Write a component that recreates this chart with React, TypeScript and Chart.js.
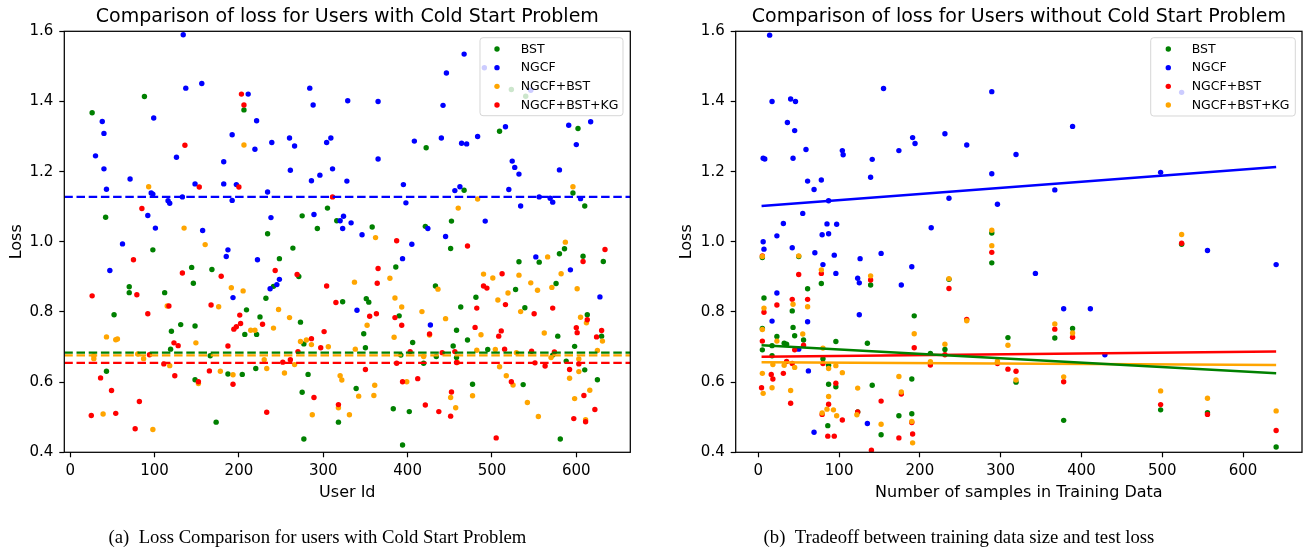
import React, { useEffect, useRef } from "react";
import { Chart, registerables } from "chart.js";

Chart.register(...registerables);

type Pt = [number, number];

// ---------- Panel (a): users with cold start problem ----------
const coldTitle = "Comparison of loss for Users with Cold Start Problem";
const coldXTitle = "User Id";
const coldXTicks = [0, 100, 200, 300, 400, 500, 600];
const coldLabels = ["BST", "NGCF", "NGCF+BST", "NGCF+BST+KG"];
const coldMeanLoss = [0.684, 1.128, 0.676, 0.655];

const coldBst: Pt[] = [
  [26, 1.368], [42, 1.07], [88, 1.414], [206, 1.376], [234, 1.023], [275, 1.074], [293, 1.038], [305, 1.096], [316, 1.06],
  [358, 1.042], [422, 1.268], [421, 1.044], [467, 1.147], [452, 1.059], [509, 1.315], [523, 1.434], [540, 1.415], [602, 1.323], [596, 1.139], [610, 1.102],
  [70, 0.872], [70, 0.855], [98, 0.977], [52, 0.792], [112, 0.855], [120, 0.745], [119, 0.694], [131, 0.764], [144, 0.927], [146, 0.882], [148, 0.76],
  [168, 0.921], [209, 0.806], [207, 0.736], [221, 0.736], [225, 0.786], [232, 0.839], [241, 0.873], [248, 0.952], [264, 0.982], [271, 0.901], [273, 0.771],
  [277, 0.709], [323, 0.829], [43, 0.631], [148, 0.607], [166, 0.675], [187, 0.623], [173, 0.486], [204, 0.622], [220, 0.639], [275, 0.571], [282, 0.622],
  [277, 0.438], [318, 0.486], [339, 0.582],
  [451, 0.981], [386, 0.928], [351, 0.838], [354, 0.828], [348, 0.738], [350, 0.698], [390, 0.789], [433, 0.874], [406, 0.713], [392, 0.677], [419, 0.654],
  [434, 0.673], [454, 0.703], [458, 0.67], [458, 0.748], [463, 0.814], [471, 0.72], [481, 0.842], [495, 0.693], [528, 0.864], [532, 0.943], [537, 0.593],
  [539, 0.812], [556, 0.942], [576, 0.881], [580, 0.966], [586, 0.98], [578, 0.731], [608, 0.959], [632, 0.944], [613, 0.792], [630, 0.731], [598, 0.702],
  [572, 0.677], [588, 0.66], [610, 0.635], [625, 0.607], [477, 0.594], [402, 0.516], [383, 0.524], [394, 0.421], [581, 0.438],
];

const coldNgcf: Pt[] = [
  [134, 1.59], [38, 1.343], [40, 1.309], [30, 1.245], [40, 1.208], [43, 1.15], [99, 1.353], [71, 1.179], [96, 1.139], [98, 1.136], [92, 1.075],
  [101, 1.039], [116, 1.117], [118, 1.11], [126, 1.241], [133, 1.128], [137, 1.438], [148, 1.165], [156, 1.451], [157, 1.032], [182, 1.228], [182, 1.165],
  [192, 1.118], [192, 1.305], [197, 1.163], [211, 1.421], [221, 1.345], [219, 1.264], [234, 1.142], [239, 1.283], [238, 1.069], [260, 1.296], [266, 1.273],
  [261, 1.204], [284, 1.438], [288, 1.39], [286, 1.174], [296, 1.19], [289, 1.078], [304, 1.283], [309, 1.296], [311, 1.208], [320, 1.06], [324, 1.073],
  [323, 1.038], [333, 1.054], [329, 1.402], [328, 1.173],
  [365, 1.4], [365, 1.236], [346, 1.02], [395, 1.163], [398, 1.111], [408, 1.287], [424, 1.038], [445, 1.015], [440, 1.296], [442, 1.389], [446, 1.481],
  [467, 1.535], [464, 1.281], [470, 1.279], [483, 1.3], [456, 1.146], [462, 1.157], [492, 1.059], [491, 1.496], [516, 1.328], [546, 1.432], [524, 1.23],
  [527, 1.212], [532, 1.193], [520, 1.149], [534, 1.102], [556, 1.128], [569, 1.124], [572, 1.113], [580, 1.205], [591, 1.332], [600, 1.277], [617, 1.342],
  [605, 1.123],
  [62, 0.994], [47, 0.918], [187, 0.977], [185, 0.958], [193, 0.841], [222, 0.949], [237, 0.866], [245, 0.878], [248, 0.893], [340, 0.805],
  [405, 0.993], [394, 0.952], [427, 0.763], [552, 0.957], [593, 0.92], [628, 0.843],
];

const coldNgcfBst: Pt[] = [
  [93, 1.157], [206, 1.276], [135, 1.039], [483, 1.122], [460, 1.096], [596, 1.157],
  [43, 0.729], [54, 0.721], [56, 0.723], [115, 0.817], [149, 0.712], [160, 0.992], [176, 0.815], [191, 0.869], [205, 0.86], [214, 0.748], [219, 0.748],
  [247, 0.807], [241, 0.754], [260, 0.784], [273, 0.716], [280, 0.72], [286, 0.707], [306, 0.701], [337, 0.885], [338, 0.694], [28, 0.675], [28, 0.667],
  [80, 0.68], [87, 0.667], [39, 0.509], [98, 0.465], [118, 0.647], [152, 0.596], [178, 0.631], [193, 0.621], [230, 0.664], [233, 0.639], [254, 0.626],
  [266, 0.65], [287, 0.507], [320, 0.618], [322, 0.606], [318, 0.527], [331, 0.507], [342, 0.56],
  [362, 1.012], [379, 0.896], [352, 0.762], [385, 0.84], [393, 0.814], [384, 0.728], [417, 0.801], [436, 0.865], [426, 0.734], [399, 0.601], [419, 0.673],
  [445, 0.781], [459, 0.656], [487, 0.735], [482, 0.691], [490, 0.908], [501, 0.897], [507, 0.834], [519, 0.854], [532, 0.905], [504, 0.693], [529, 0.684],
  [509, 0.644], [517, 0.618], [525, 0.592], [534, 0.801], [546, 0.883], [554, 0.862], [566, 0.957], [571, 0.87], [582, 0.909], [587, 0.999], [562, 0.74],
  [601, 0.866], [605, 0.785], [612, 0.769], [631, 0.717], [625, 0.69], [570, 0.67], [603, 0.666], [603, 0.63], [592, 0.611], [616, 0.577], [598, 0.553],
  [611, 0.493], [542, 0.542], [555, 0.502], [477, 0.561], [451, 0.556], [457, 0.527], [361, 0.591], [360, 0.562],
];

const coldNgcfBstKg: Pt[] = [
  [136, 1.275], [153, 1.156], [85, 1.095], [200, 1.156], [203, 1.421], [206, 1.39], [311, 1.128],
  [26, 0.846], [75, 0.949], [79, 0.849], [92, 0.795], [117, 0.817], [123, 0.712], [128, 0.704], [133, 0.911], [167, 0.82], [179, 0.902], [201, 0.791],
  [202, 0.767], [197, 0.758], [194, 0.751], [187, 0.703], [228, 0.765], [243, 0.918], [269, 0.907], [286, 0.724], [270, 0.687], [297, 0.698], [301, 0.744],
  [304, 0.874], [315, 0.827], [94, 0.678], [36, 0.612], [49, 0.576], [82, 0.545], [25, 0.505], [54, 0.511], [77, 0.467], [111, 0.652], [124, 0.618],
  [152, 0.601], [165, 0.632], [193, 0.594], [233, 0.514], [252, 0.657], [261, 0.664], [289, 0.556], [318, 0.536],
  [387, 1.003], [471, 0.988], [365, 0.924], [364, 0.882], [355, 0.788], [363, 0.795], [385, 0.784], [393, 0.762], [426, 0.737], [403, 0.687], [387, 0.654],
  [394, 0.601], [412, 0.61], [441, 0.684], [456, 0.687], [458, 0.656], [480, 0.756], [482, 0.811], [490, 0.874], [494, 0.868], [512, 0.909], [516, 0.821],
  [511, 0.746], [508, 0.731], [515, 0.694], [523, 0.601], [550, 0.795], [572, 0.811], [608, 0.944], [634, 0.978], [613, 0.778], [600, 0.755], [601, 0.741],
  [624, 0.729], [630, 0.747], [547, 0.688], [551, 0.655], [563, 0.646], [574, 0.686], [603, 0.652], [592, 0.636], [609, 0.562], [622, 0.522], [597, 0.496],
  [611, 0.487], [452, 0.572], [451, 0.503], [437, 0.516], [421, 0.535], [505, 0.441], [350, 0.636],
];

// ---------- Panel (b): users without cold start problem ----------
const warmTitle = "Comparison of loss for Users without Cold Start Problem";
const warmXTitle = "Number of samples in Training Data";
const warmXTicks = [0, 100, 200, 300, 400, 500, 600];
const warmLabels = ["BST", "NGCF", "NGCF+BST", "NGCF+BST+KG"];
const trendSamples = [4, 641];
const warmTrendBst = [0.705, 0.625];
const warmTrendNgcf = [1.102, 1.213];
const warmTrendNgcfBst = [0.672, 0.687];
const warmTrendKg = [0.657, 0.649];

const warmBst: Pt[] = [
  [5, 0.955], [7, 0.84], [5, 0.753], [5, 0.692], [17, 0.675], [23, 0.73], [17, 0.704], [32, 0.711], [35, 0.708], [42, 0.803], [43, 0.756], [45, 0.732],
  [50, 0.958], [56, 0.72], [61, 0.866], [78, 0.881], [80, 0.667], [87, 0.648], [87, 0.594], [86, 0.476], [96, 0.587], [96, 0.716], [123, 0.515], [135, 0.711],
  [139, 0.877], [141, 0.591], [152, 0.45], [174, 0.504], [190, 0.609], [190, 0.51], [193, 0.789], [213, 0.682], [231, 0.693], [236, 0.893], [289, 1.025],
  [289, 0.94], [296, 0.655], [309, 0.727], [319, 0.6], [367, 0.726], [378, 0.491], [389, 0.753], [498, 0.521], [524, 0.993], [556, 0.513], [641, 0.415],
];

const warmNgcf: Pt[] = [
  [14, 1.589], [17, 1.4], [40, 1.407], [46, 1.4], [36, 1.34], [45, 1.317], [6, 1.238], [8, 1.236], [43, 1.238], [59, 1.263], [61, 1.173], [78, 1.176],
  [69, 1.149], [55, 1.081], [31, 1.052], [23, 1.017], [85, 1.051], [97, 1.05], [79, 1.02], [87, 1.023], [87, 1.117], [104, 1.26], [105, 1.248], [141, 1.235],
  [139, 1.184], [155, 1.437], [174, 1.26], [191, 1.297], [194, 1.28], [231, 1.308], [258, 1.276], [214, 1.04], [236, 1.124], [289, 1.428], [289, 1.194],
  [296, 1.107], [319, 1.249], [389, 1.329], [367, 1.148], [498, 1.198], [524, 1.426],
  [6, 1.0], [7, 0.979], [42, 0.983], [70, 0.969], [94, 0.962], [80, 0.935], [96, 0.91], [126, 0.952], [152, 0.967], [123, 0.896], [125, 0.883], [23, 0.854],
  [17, 0.774], [61, 0.772], [125, 0.792], [177, 0.877], [190, 0.929], [343, 0.91], [62, 0.632], [50, 0.694], [69, 0.457], [135, 0.482], [378, 0.809],
  [411, 0.809], [429, 0.678], [556, 0.975], [641, 0.935],
];

const warmNgcfBst: Pt[] = [
  [5, 0.96], [7, 0.799], [5, 0.717], [4, 0.584], [16, 0.622], [18, 0.609], [23, 0.82], [35, 0.659], [31, 0.625], [40, 0.54], [42, 0.836], [42, 0.653],
  [45, 0.692], [50, 0.907], [56, 0.705], [61, 0.836], [78, 0.91], [80, 0.653], [87, 0.537], [79, 0.508], [86, 0.446], [94, 0.446], [96, 0.597], [104, 0.492],
  [123, 0.515], [139, 0.891], [140, 0.406], [152, 0.546], [177, 0.566], [174, 0.441], [190, 0.485], [191, 0.452], [193, 0.698], [213, 0.649], [231, 0.678],
  [236, 0.867], [258, 0.779], [289, 0.97], [296, 0.653], [309, 0.637], [319, 0.631], [367, 0.751], [378, 0.601], [389, 0.728], [498, 0.536], [524, 0.996],
  [556, 0.508], [641, 0.462],
];

const warmNgcfBstKg: Pt[] = [
  [5, 0.958], [7, 0.811], [5, 0.75], [5, 0.625], [6, 0.568], [17, 0.584], [18, 0.65], [23, 0.717], [32, 0.648], [40, 0.576], [43, 0.822], [45, 0.642],
  [50, 0.96], [55, 0.737], [61, 0.815], [78, 0.92], [80, 0.697], [87, 0.639], [87, 0.559], [85, 0.523], [79, 0.512], [93, 0.521], [97, 0.504], [96, 0.647],
  [104, 0.627], [123, 0.583], [122, 0.507], [139, 0.903], [152, 0.48], [174, 0.616], [177, 0.572], [190, 0.488], [191, 0.427], [193, 0.738], [213, 0.658],
  [231, 0.708], [236, 0.895], [258, 0.775], [289, 1.033], [289, 0.989], [296, 0.66], [309, 0.705], [319, 0.606], [367, 0.766], [378, 0.615], [389, 0.74],
  [498, 0.575], [524, 1.021], [556, 0.554], [641, 0.518],
];

const yTicks = [0.4, 0.6, 0.8, 1.0, 1.2, 1.4, 1.6];

// ---------- styling ----------
const FONT = '"DejaVu Sans", sans-serif';
const GREEN = "#008000";
const BLUE = "#0000ff";
const ORANGE = "#ffa500";
const RED = "#ff0000";

const framePlugin = {
  id: "frame",
  afterDatasetsDraw(chart: any) {
    const { ctx, chartArea: a } = chart;
    ctx.save();
    ctx.strokeStyle = "#000";
    ctx.lineWidth = 1.25;
    ctx.strokeRect(a.left, a.top, a.right - a.left, a.bottom - a.top);
    ctx.restore();
  },
};

const boxLegendPlugin = {
  id: "boxLegend",
  afterDraw(chart: any, _args: any, opts: any) {
    if (!opts || !opts.show) return;
    const { ctx, chartArea } = chart;
    const items = chart.data.datasets.filter((d: any) => !d.isLine);
    const w = opts.width;
    const h = opts.height;
    const x = chartArea.right - opts.right - w;
    const y = chartArea.top + opts.top;
    const r = 3;
    ctx.save();
    ctx.beginPath();
    ctx.moveTo(x + r, y);
    ctx.lineTo(x + w - r, y);
    ctx.quadraticCurveTo(x + w, y, x + w, y + r);
    ctx.lineTo(x + w, y + h - r);
    ctx.quadraticCurveTo(x + w, y + h, x + w - r, y + h);
    ctx.lineTo(x + r, y + h);
    ctx.quadraticCurveTo(x, y + h, x, y + h - r);
    ctx.lineTo(x, y + r);
    ctx.quadraticCurveTo(x, y, x + r, y);
    ctx.closePath();
    ctx.fillStyle = "rgba(255,255,255,0.8)";
    ctx.fill();
    ctx.strokeStyle = "rgba(204,204,204,0.8)";
    ctx.lineWidth = 1;
    ctx.stroke();
    ctx.font = `12.5px ${FONT}`;
    ctx.textBaseline = "middle";
    ctx.textAlign = "left";
    items.forEach((d: any, i: number) => {
      const cy = y + opts.firstRow + i * opts.rowGap;
      ctx.fillStyle = d.backgroundColor;
      ctx.beginPath();
      ctx.arc(x + opts.markerX, cy, 2.7, 0, Math.PI * 2);
      ctx.fill();
      ctx.fillStyle = "#000";
      ctx.fillText(d.label, x + opts.textX, cy + 0.5);
    });
    ctx.restore();
  },
};

type Series = { label: string; color: string; points: Pt[] };
type LineSpec = { color: string; xs: number[]; ys: number[]; width: number; dash: number[] };

type PanelSpec = {
  title: string;
  xTitle: string;
  xMin: number;
  xMax: number;
  xTicks: number[];
  yAxisWidth: number;
  yTitlePad: number;
  padRight: number;
  series: Series[];
  lines: LineSpec[];
  legend: any;
};

function buildConfig(spec: PanelSpec): any {
  const scatterSets = spec.series.map((s, i) => ({
    label: s.label,
    data: s.points.map(([x, y]) => ({ x, y })),
    backgroundColor: s.color,
    borderColor: s.color,
    borderWidth: 0,
    pointRadius: 2.7,
    pointHoverRadius: 2.7,
    showLine: false,
    order: 10 - i,
  }));
  const lineSets = spec.lines.map((l, j) => ({
    label: "",
    isLine: true,
    data: l.xs.map((x, k) => ({ x, y: l.ys[k] })),
    borderColor: l.color,
    backgroundColor: l.color,
    borderWidth: l.width,
    borderDash: l.dash,
    pointRadius: 0,
    showLine: true,
    fill: false,
    order: -1 - j,
  }));
  const XAXIS_H = 60;
  return {
    type: "scatter",
    data: { datasets: [...scatterSets, ...lineSets] },
    options: {
      animation: false,
      responsive: false,
      devicePixelRatio: 1,
      events: [],
      layout: { padding: { left: 0, right: spec.padRight, top: 0, bottom: 552 - 452.3 - XAXIS_H } },
      plugins: {
        legend: { display: false },
        tooltip: { enabled: false },
        title: {
          display: true,
          text: spec.title,
          fullSize: false,
          color: "#000",
          font: { family: FONT, size: 19, weight: "normal", lineHeight: 1.2 },
          padding: { top: 5.3, bottom: 3.2 },
        },
        boxLegend: spec.legend,
      },
      scales: {
        x: {
          type: "linear",
          min: spec.xMin,
          max: spec.xMax,
          afterBuildTicks: (s: any) => {
            s.ticks = spec.xTicks.map((v) => ({ value: v }));
          },
          afterFit: (s: any) => {
            s.height = XAXIS_H;
          },
          ticks: {
            color: "#000",
            font: { family: FONT, size: 15 },
            padding: 5.2,
            autoSkip: false,
            maxRotation: 0,
            callback: (v: any) => String(v),
          },
          grid: { display: true, drawOnChartArea: false, drawTicks: true, tickLength: 5, tickWidth: 1.2, tickColor: "#000", color: "#000" },
          border: { display: false },
          title: {
            display: true,
            text: spec.xTitle,
            color: "#000",
            font: { family: FONT, size: 16, lineHeight: 1.2 },
            padding: { top: 0, bottom: 9.7 },
          },
        },
        y: {
          type: "linear",
          min: 0.4,
          max: 1.6,
          afterBuildTicks: (s: any) => {
            s.ticks = yTicks.map((v) => ({ value: v }));
          },
          afterFit: (s: any) => {
            s.width = spec.yAxisWidth;
          },
          ticks: {
            color: "#000",
            font: { family: FONT, size: 15 },
            padding: 6,
            autoSkip: false,
            callback: (v: any) => Number(v).toFixed(1),
          },
          grid: { display: true, drawOnChartArea: false, drawTicks: true, tickLength: 5, tickWidth: 1.2, tickColor: "#000", color: "#000" },
          border: { display: false },
          title: {
            display: true,
            text: "Loss",
            color: "#000",
            font: { family: FONT, size: 16, lineHeight: 1.2 },
            padding: { top: spec.yTitlePad, bottom: 0 },
          },
        },
      },
    },
    plugins: [framePlugin, boxLegendPlugin],
  };
}

const COLD_X_MIN = -7;
const COLD_X_MAX = 664;
const WARM_X_MIN = -28;
const WARM_X_MAX = 673;

const coldSpec: PanelSpec = {
  title: coldTitle,
  xTitle: coldXTitle,
  xMin: COLD_X_MIN,
  xMax: COLD_X_MAX,
  xTicks: coldXTicks,
  yAxisWidth: 64.3,
  yTitlePad: 7.4,
  padRight: 655 - 630.3,
  series: [
    { label: coldLabels[0], color: GREEN, points: coldBst },
    { label: coldLabels[1], color: BLUE, points: coldNgcf },
    { label: coldLabels[2], color: ORANGE, points: coldNgcfBst },
    { label: coldLabels[3], color: RED, points: coldNgcfBstKg },
  ],
  lines: [
    { color: BLUE, xs: [COLD_X_MIN, COLD_X_MAX], ys: [coldMeanLoss[1], coldMeanLoss[1]], width: 2.2, dash: [8.5, 3.7] },
    { color: GREEN, xs: [COLD_X_MIN, COLD_X_MAX], ys: [coldMeanLoss[0], coldMeanLoss[0]], width: 2.2, dash: [8.5, 3.7] },
    { color: ORANGE, xs: [COLD_X_MIN, COLD_X_MAX], ys: [coldMeanLoss[2], coldMeanLoss[2]], width: 2.2, dash: [8.5, 3.7] },
    { color: RED, xs: [COLD_X_MIN, COLD_X_MAX], ys: [coldMeanLoss[3], coldMeanLoss[3]], width: 2.2, dash: [8.5, 3.7] },
  ],
  legend: { show: true, width: 143, height: 78, right: 7.3, top: 6.4, markerX: 17, textX: 40.7, firstRow: 11.3, rowGap: 18.67 },
};

const warmSpec: PanelSpec = {
  title: warmTitle,
  xTitle: warmXTitle,
  xMin: WARM_X_MIN,
  xMax: WARM_X_MAX,
  xTicks: warmXTicks,
  yAxisWidth: 80.7,
  yTitlePad: 22.4,
  padRight: 8,
  series: [
    { label: warmLabels[0], color: GREEN, points: warmBst },
    { label: warmLabels[1], color: BLUE, points: warmNgcf },
    { label: warmLabels[2], color: RED, points: warmNgcfBst },
    { label: warmLabels[3], color: ORANGE, points: warmNgcfBstKg },
  ],
  lines: [
    { color: ORANGE, xs: trendSamples, ys: warmTrendKg, width: 2.5, dash: [] },
    { color: RED, xs: trendSamples, ys: warmTrendNgcfBst, width: 2.5, dash: [] },
    { color: GREEN, xs: trendSamples, ys: warmTrendBst, width: 2.5, dash: [] },
    { color: BLUE, xs: trendSamples, ys: warmTrendNgcf, width: 2.5, dash: [] },
  ],
  legend: { show: true, width: 144.6, height: 78.3, right: 6.7, top: 6.4, markerX: 17.6, textX: 41, firstRow: 11.3, rowGap: 18.67 },
};

const captionStyle: React.CSSProperties = {
  position: "absolute",
  top: 528,
  fontFamily: '"Liberation Serif", "DejaVu Serif", serif',
  fontSize: 18.7,
  lineHeight: "18.7px",
  color: "#000",
  whiteSpace: "pre",
  transform: "translateX(-50%)",
};

export default function App() {
  const leftRef = useRef<HTMLCanvasElement>(null);
  const rightRef = useRef<HTMLCanvasElement>(null);

  useEffect(() => {
    const a = new Chart(leftRef.current as HTMLCanvasElement, buildConfig(coldSpec));
    const b = new Chart(rightRef.current as HTMLCanvasElement, buildConfig(warmSpec));
    return () => {
      a.destroy();
      b.destroy();
    };
  }, []);

  return (
    <div style={{ position: "absolute", left: 0, top: 0, width: 1310, height: 552, background: "#fff", overflow: "hidden" }}>
      <canvas
        ref={leftRef}
        width={655}
        height={552}
        style={{ position: "absolute", left: 0, top: 0, width: 655, height: 552 }}
      />
      <canvas
        ref={rightRef}
        width={655}
        height={552}
        style={{ position: "absolute", left: 655, top: 0, width: 655, height: 552 }}
      />
      <div style={{ ...captionStyle, left: 317.5 }}>{"(a)\u2002Loss Comparison for users with Cold Start Problem"}</div>
      <div style={{ ...captionStyle, left: 959 }}>{"(b)\u2002Tradeoff between training data size and test loss"}</div>
    </div>
  );
}
